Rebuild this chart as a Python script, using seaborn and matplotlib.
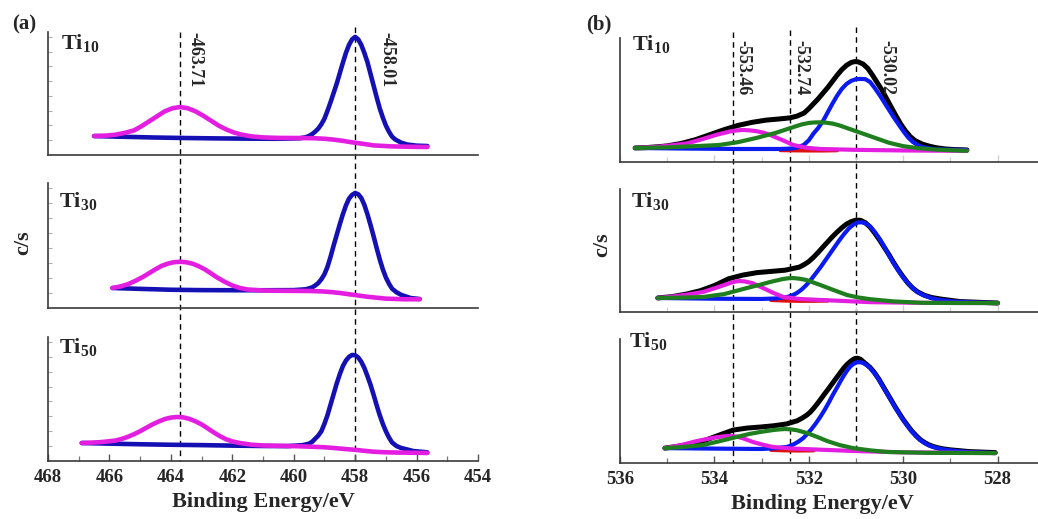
import matplotlib
matplotlib.use("Agg")
import matplotlib.pyplot as plt
import pandas as pd
import seaborn as sns
from matplotlib.ticker import MultipleLocator

# ------------------------------------------------------------------
# Data (binding energy in eV, intensity a.u.)
# ------------------------------------------------------------------
SAMPLES = ["10", "30", "50"]

# ---- panel (a): Ti 2p ----
A10_MAG_X = [466.5, 466.1, 465.8, 465.5, 465.2, 464.95, 464.7, 464.45, 464.2, 463.95, 463.7, 463.45, 463.2, 462.95, 462.7, 462.45, 462.2, 461.95, 461.7, 461.4, 461.0, 460.5, 459.8, 459.3, 459.0, 458.7, 458.4, 458.1, 457.8, 457.4, 456.8, 456.2, 455.65]
A10_MAG_Y = [15.4, 15.8, 16.5, 18.0, 20.0, 23.5, 27.5, 31.5, 35.5, 38.0, 39.0, 38.0, 35.5, 32.0, 28.0, 24.0, 20.8, 18.3, 16.6, 15.2, 14.3, 13.9, 13.8, 13.6, 13.2, 12.5, 11.5, 10.3, 9.3, 7.8, 7.0, 6.7, 6.5]
A10_BLU_X = [466.5, 465.5, 464.5, 463.5, 462.5, 461.5, 460.5, 459.8, 459.6, 459.5, 459.4, 459.3, 459.2, 459.1, 459.0, 458.9, 458.8, 458.7, 458.6, 458.5, 458.4, 458.3, 458.2, 458.1, 458.0, 457.9, 457.8, 457.7, 457.6, 457.5, 457.4, 457.3, 457.2, 457.1, 457.0, 456.9, 456.8, 456.7, 456.5, 456.3, 456.0, 455.65]
A10_BLU_Y = [15.4, 14.8, 14.2, 13.8, 13.5, 13.3, 13.2, 13.6, 14.5, 15.5, 17.0, 19.0, 21.5, 25.0, 29.5, 36.0, 43.0, 50.5, 58.0, 66.5, 75.0, 83.0, 89.5, 94.0, 96.0, 94.0, 89.5, 83.0, 75.5, 66.0, 56.5, 47.0, 38.0, 30.5, 24.0, 19.0, 15.0, 12.7, 10.0, 8.5, 7.6, 7.3]

A30_MAG_X = [465.9, 465.65, 465.4, 465.15, 464.9, 464.7, 464.5, 464.3, 464.1, 463.9, 463.7, 463.5, 463.3, 463.1, 462.9, 462.7, 462.5, 462.25, 462.0, 461.75, 461.5, 461.0, 460.5, 459.5, 459.1, 458.8, 458.5, 458.2, 457.9, 457.6, 457.0, 456.4, 455.9]
A30_MAG_Y = [16.0, 17.2, 19.0, 21.8, 25.0, 28.0, 31.0, 33.7, 35.5, 36.6, 37.0, 36.6, 35.5, 33.5, 31.0, 27.8, 24.5, 21.0, 18.0, 16.0, 14.8, 14.0, 13.8, 13.6, 13.3, 12.8, 12.0, 11.0, 10.0, 9.0, 7.5, 7.0, 7.0]
A30_BLU_X = [465.9, 465.0, 464.0, 463.0, 462.0, 461.0, 460.0, 459.6, 459.4, 459.3, 459.2, 459.1, 459.0, 458.9, 458.8, 458.7, 458.6, 458.5, 458.4, 458.3, 458.2, 458.1, 458.0, 457.9, 457.8, 457.7, 457.6, 457.5, 457.4, 457.3, 457.2, 457.1, 457.0, 456.9, 456.8, 456.65, 456.5, 456.2, 455.9]
A30_BLU_Y = [16.0, 15.3, 14.6, 14.3, 14.2, 14.2, 14.3, 15.0, 16.5, 18.0, 20.0, 23.0, 27.0, 33.0, 41.0, 50.0, 58.5, 67.0, 75.0, 82.0, 87.5, 90.5, 92.0, 91.0, 88.0, 82.5, 75.0, 66.5, 57.5, 48.0, 39.0, 31.0, 24.5, 19.5, 15.5, 12.5, 10.5, 8.0, 7.2]

A50_MAG_X = [466.9, 466.6, 466.3, 466.05, 465.8, 465.6, 465.4, 465.2, 465.0, 464.8, 464.6, 464.4, 464.2, 464.0, 463.8, 463.6, 463.4, 463.2, 463.0, 462.8, 462.6, 462.4, 462.2, 462.0, 461.75, 461.4, 461.0, 460.0, 459.4, 459.0, 458.7, 458.35, 458.0, 457.7, 457.4, 457.0, 456.6, 455.65]
A50_MAG_Y = [14.5, 14.8, 15.2, 15.8, 16.5, 17.8, 19.5, 21.6, 24.0, 26.8, 29.5, 31.8, 33.8, 35.0, 35.5, 35.2, 34.0, 32.0, 29.5, 26.3, 23.0, 20.0, 17.5, 15.8, 14.5, 13.2, 12.5, 12.0, 11.5, 11.1, 10.5, 9.7, 9.0, 8.2, 7.5, 7.0, 6.8, 6.5]
A50_BLU_X = [466.9, 466.0, 465.0, 464.0, 463.0, 462.0, 461.0, 460.2, 459.7, 459.5, 459.4, 459.3, 459.2, 459.1, 459.0, 458.9, 458.8, 458.7, 458.6, 458.5, 458.4, 458.3, 458.2, 458.1, 458.0, 457.9, 457.8, 457.7, 457.6, 457.5, 457.4, 457.3, 457.2, 457.1, 457.0, 456.9, 456.8, 456.65, 456.5, 456.1, 455.65]
A50_BLU_Y = [14.5, 14.0, 13.5, 13.1, 12.8, 12.4, 12.1, 12.0, 12.8, 14.0, 15.5, 18.0, 20.5, 24.0, 30.0, 37.0, 45.5, 54.0, 62.5, 70.0, 76.5, 81.0, 84.0, 85.5, 85.3, 83.5, 80.0, 75.0, 68.5, 61.5, 53.5, 45.0, 37.0, 30.0, 24.0, 19.0, 15.0, 12.0, 10.5, 8.0, 7.0]

# ---- panel (b): O 1s ----
B10_BLK_X = [535.68, 535.45, 535.2, 535.0, 534.7, 534.4, 534.1, 533.8, 533.5, 533.2, 532.9, 532.6, 532.4, 532.25, 532.1, 532.0, 531.9, 531.8, 531.7, 531.6, 531.5, 531.4, 531.3, 531.2, 531.1, 531.02, 530.95, 530.85, 530.75, 530.65, 530.55, 530.45, 530.35, 530.25, 530.15, 530.05, 529.95, 529.85, 529.75, 529.6, 529.45, 529.3, 529.1, 528.9, 528.65]
B10_BLK_Y = [11.3, 11.6, 12.3, 13.0, 15.0, 18.0, 22.0, 26.0, 29.5, 32.0, 33.8, 34.8, 35.6, 37.0, 39.5, 43.0, 47.0, 51.0, 55.5, 60.0, 65.0, 70.0, 74.5, 78.0, 80.3, 81.0, 80.7, 79.0, 75.5, 70.0, 64.0, 58.0, 51.0, 44.0, 37.0, 30.5, 25.0, 20.5, 17.3, 14.5, 12.8, 11.5, 10.5, 10.0, 9.7]
B10_BLU_X = [535.68, 534.5, 533.5, 532.6, 532.4, 532.3, 532.2, 532.1, 532.0, 531.9, 531.8, 531.7, 531.6, 531.5, 531.4, 531.3, 531.2, 531.1, 531.0, 530.9, 530.8, 530.7, 530.6, 530.5, 530.4, 530.3, 530.2, 530.1, 530.0, 529.9, 529.8, 529.7, 529.6, 529.45, 529.3, 528.65]
B10_BLU_Y = [11.3, 10.8, 10.5, 10.5, 10.8, 11.2, 12.2, 14.0, 17.5, 23.0, 27.5, 33.0, 40.0, 47.0, 53.5, 59.0, 63.0, 65.5, 66.8, 67.0, 66.8, 64.5, 59.5, 54.0, 48.0, 42.0, 36.0, 30.5, 25.0, 20.0, 16.3, 13.8, 12.2, 11.0, 10.2, 9.7]
B10_GRN_X = [535.68, 535.0, 534.4, 533.9, 533.5, 533.1, 532.7, 532.3, 532.15, 532.0, 531.88, 531.76, 531.63, 531.5, 531.35, 531.2, 530.9, 530.6, 530.3, 530.0, 529.7, 529.3, 528.65]
B10_GRN_Y = [11.3, 11.8, 12.8, 13.7, 16.0, 19.5, 23.5, 28.5, 30.3, 31.5, 31.9, 32.0, 31.7, 31.0, 29.5, 27.5, 23.5, 19.5, 15.5, 12.8, 11.2, 10.0, 9.0]
B10_MAG_X = [535.68, 535.2, 534.9, 534.58, 534.25, 533.95, 533.65, 533.52, 533.39, 533.25, 533.1, 532.95, 532.82, 532.55, 532.33, 532.05, 531.76, 531.0, 530.0, 528.65]
B10_MAG_Y = [11.3, 12.3, 13.5, 15.0, 18.5, 22.0, 24.8, 25.5, 25.8, 25.5, 24.8, 23.5, 21.8, 17.5, 13.7, 11.5, 10.5, 9.8, 9.3, 9.0]
B10_RED_X = [532.6, 532.3, 532.0, 531.7, 531.4]
B10_RED_Y = [9.6, 9.4, 9.3, 9.3, 9.5]

B30_BLK_X = [535.2, 534.9, 534.6, 534.3, 534.0, 533.7, 533.4, 533.1, 532.8, 532.5, 532.2, 532.1, 532.0, 531.9, 531.8, 531.7, 531.6, 531.5, 531.4, 531.3, 531.2, 531.1, 531.0, 530.9, 530.8, 530.7, 530.6, 530.5, 530.4, 530.3, 530.2, 530.1, 530.0, 529.9, 529.8, 529.7, 529.55, 529.4, 529.2, 528.8, 528.0]
B30_BLK_Y = [11.4, 12.5, 14.5, 17.3, 21.5, 27.0, 30.0, 32.0, 33.0, 34.0, 36.5, 38.5, 41.0, 44.5, 48.5, 52.8, 57.0, 61.2, 65.0, 68.5, 71.5, 73.5, 74.7, 74.5, 72.5, 69.0, 64.0, 58.5, 52.5, 46.5, 40.0, 34.0, 28.5, 23.5, 19.5, 16.5, 13.6, 11.8, 10.5, 8.5, 7.3]
B30_BLU_X = [535.2, 534.0, 533.0, 532.7, 532.45, 532.35, 532.25, 532.15, 532.05, 531.95, 531.85, 531.75, 531.65, 531.55, 531.45, 531.35, 531.25, 531.15, 531.05, 530.96, 530.88, 530.8, 530.7, 530.6, 530.5, 530.4, 530.3, 530.2, 530.1, 530.0, 529.9, 529.8, 529.7, 529.58, 529.4, 529.22, 528.9, 528.5, 528.0]
B30_BLU_Y = [11.4, 10.8, 10.6, 11.0, 12.3, 13.5, 15.5, 18.3, 22.0, 26.5, 31.5, 36.5, 42.0, 47.5, 53.0, 58.5, 63.5, 68.0, 71.2, 72.8, 73.0, 72.0, 69.5, 65.0, 59.5, 53.0, 46.0, 39.5, 33.5, 28.0, 23.5, 19.5, 16.3, 13.8, 11.2, 9.8, 8.5, 7.8, 7.3]
B30_GRN_X = [535.2, 534.7, 534.24, 533.8, 533.31, 533.05, 532.82, 532.55, 532.44, 532.33, 532.2, 532.05, 531.76, 531.45, 531.19, 530.95, 530.7, 530.2, 529.6, 528.8, 528.0]
B30_GRN_Y = [11.4, 11.7, 12.2, 14.5, 19.5, 22.0, 24.4, 26.8, 27.4, 27.6, 27.1, 26.0, 22.0, 17.5, 13.8, 11.8, 10.4, 8.6, 7.5, 7.3, 7.3]
B30_MAG_X = [535.2, 534.9, 534.6, 534.24, 533.9, 533.65, 533.55, 533.46, 533.35, 533.2, 532.97, 532.75, 532.54, 532.2, 531.76, 530.7, 529.5, 528.0]
B30_MAG_Y = [11.4, 12.5, 14.0, 16.3, 20.5, 23.8, 24.8, 25.2, 24.8, 23.5, 19.5, 15.5, 12.2, 10.6, 9.8, 8.0, 7.4, 7.3]
B30_RED_X = [532.8, 532.5, 532.2, 531.9, 531.6]
B30_RED_Y = [9.8, 9.3, 9.1, 9.1, 9.3]

B50_BLK_X = [535.05, 534.8, 534.5, 534.24, 533.9, 533.6, 533.3, 533.03, 532.75, 532.47, 532.25, 532.15, 532.04, 531.97, 531.9, 531.83, 531.76, 531.67, 531.58, 531.49, 531.4, 531.32, 531.25, 531.19, 531.13, 531.07, 531.02, 530.96, 530.9, 530.84, 530.77, 530.7, 530.61, 530.52, 530.44, 530.35, 530.26, 530.18, 530.09, 530.0, 529.91, 529.82, 529.73, 529.64, 529.55, 529.46, 529.37, 529.28, 529.15, 529.0, 528.6, 528.05]
B50_BLK_Y = [12.0, 13.3, 15.2, 17.7, 22.5, 26.6, 28.2, 29.0, 30.0, 31.5, 34.0, 36.0, 38.7, 41.0, 44.0, 47.3, 50.8, 55.5, 60.0, 64.7, 69.4, 73.5, 77.0, 79.5, 81.5, 83.3, 84.3, 84.5, 83.5, 81.5, 79.3, 77.0, 72.9, 67.9, 62.7, 56.9, 51.1, 45.9, 40.4, 35.1, 30.4, 25.9, 22.2, 18.9, 16.6, 14.7, 13.4, 12.4, 11.4, 10.6, 9.2, 8.4]
B50_BLU_X = [535.05, 534.0, 533.0, 532.75, 532.47, 532.38, 532.3, 532.21, 532.12, 532.03, 531.94, 531.85, 531.76, 531.67, 531.58, 531.49, 531.4, 531.32, 531.25, 531.19, 531.13, 531.06, 530.98, 530.91, 530.84, 530.77, 530.7, 530.61, 530.52, 530.44, 530.35, 530.26, 530.18, 530.09, 530.0, 529.91, 529.82, 529.73, 529.64, 529.55, 529.46, 529.37, 529.28, 529.15, 529.0, 528.6, 528.05]
B50_BLU_Y = [12.0, 11.6, 11.3, 11.8, 12.9, 14.0, 15.5, 17.5, 20.0, 23.5, 27.5, 32.0, 37.0, 42.5, 48.5, 55.0, 61.0, 66.5, 71.0, 74.5, 77.4, 79.8, 81.2, 81.3, 80.5, 78.8, 76.6, 72.5, 67.5, 62.3, 56.5, 50.7, 45.5, 40.0, 34.7, 30.0, 25.5, 21.8, 18.5, 16.2, 14.3, 13.0, 12.0, 11.0, 10.2, 8.8, 8.0]
B50_GRN_X = [535.05, 534.7, 534.24, 533.9, 533.53, 533.25, 533.03, 532.75, 532.62, 532.5, 532.37, 532.25, 532.04, 531.82, 531.61, 531.35, 531.06, 530.7, 530.35, 529.5, 528.05]
B50_GRN_Y = [12.0, 12.8, 14.5, 17.5, 21.0, 23.5, 25.0, 26.6, 27.1, 27.4, 27.1, 26.4, 24.2, 21.0, 17.7, 14.5, 12.0, 10.2, 8.9, 8.2, 8.0]
B50_MAG_X = [535.05, 534.7, 534.37, 534.0, 533.8, 533.67, 533.53, 533.4, 533.18, 532.95, 532.76, 532.4, 532.12, 531.6, 531.06, 530.0, 528.05]
B50_MAG_Y = [12.0, 14.5, 17.7, 20.5, 21.5, 21.8, 21.3, 20.0, 16.9, 14.5, 12.9, 11.8, 11.3, 10.5, 9.7, 8.6, 8.0]
B50_RED_X = [532.8, 532.5, 532.2, 531.9]
B50_RED_Y = [10.6, 10.2, 10.1, 10.2]

# peak markers (dashed lines) and their printed labels
A_PEAKS = [463.71, 458.01]
A_PEAK_LABELS = ["-463.71", "-458.01"]
B_PEAKS = [533.6, 532.4, 531.0]
B_PEAK_LABELS = ["-553.46", "-532.74", "-530.02"]

A_TICKS = [468, 466, 464, 462, 460, 458, 456, 454]
B_TICKS = [536, 534, 532, 530, 528]

# ------------------------------------------------------------------
sns.set_style("white")
plt.rcParams["font.family"] = ["Liberation Serif", "DejaVu Serif"]
plt.rcParams["font.weight"] = "bold"
plt.rcParams["mathtext.fontset"] = "custom"
plt.rcParams["mathtext.rm"] = "Liberation Serif:bold"
plt.rcParams["mathtext.bf"] = "Liberation Serif:bold"

W, H = 1038, 519
fig = plt.figure(figsize=(W / 100, H / 100), dpi=100)


def rect(l, t, r, b):
    return [l / W, 1 - b / H, (r - l) / W, (b - t) / H]


C_BLUE_A = "#1410b4"
C_MAG = "#e41ee0"
C_BLUE_B = "#0a1af0"
C_GREEN = "#1f7f1f"
C_RED = "#e01010"
C_BLACK = "#000000"
B_XLIM = (536, 536 - (1038 - 620) / 47.2)

# overlay axes for the dashed peak markers (spanning whole column)
ov_a = fig.add_axes(rect(48, 0, 478, H))
ov_a.set_xlim(468, 454)
ov_a.set_ylim(H, 0)
ov_a.axis("off")
for xp, top in zip(A_PEAKS, [32, 27]):
    ov_a.vlines(xp, top, 461, colors="black", linestyles=(0, (4, 3)), lw=1.0)

ov_b = fig.add_axes(rect(620, 0, 1038, H))
ov_b.set_xlim(*B_XLIM)
ov_b.set_ylim(H, 0)
ov_b.axis("off")
for xp, top, bot in zip(B_PEAKS, [32, 30, 27], [463, 461, 449]):
    ov_b.vlines(xp, top, bot, colors="black", linestyles=(0, (4, 3)), lw=1.0)

A_RECTS = [rect(48, 32, 478, 155), rect(48, 183, 478, 308), rect(48, 337, 478, 461)]
B_RECTS = [rect(620, 38, 1038, 162), rect(620, 189, 1038, 312), rect(620, 339, 1038, 463)]

A_CURVES = [
    [(A10_BLU_X, A10_BLU_Y, C_BLUE_A, 3.3), (A10_MAG_X, A10_MAG_Y, C_MAG, 3.3)],
    [(A30_BLU_X, A30_BLU_Y, C_BLUE_A, 3.3), (A30_MAG_X, A30_MAG_Y, C_MAG, 3.3)],
    [(A50_BLU_X, A50_BLU_Y, C_BLUE_A, 3.3), (A50_MAG_X, A50_MAG_Y, C_MAG, 3.3)],
]
B_CURVES = [
    [(B10_BLK_X, B10_BLK_Y, C_BLACK, 3.6), (B10_RED_X, B10_RED_Y, C_RED, 3.0), (B10_BLU_X, B10_BLU_Y, C_BLUE_B, 3.0),
     (B10_MAG_X, B10_MAG_Y, C_MAG, 3.0), (B10_GRN_X, B10_GRN_Y, C_GREEN, 3.0)],
    [(B30_BLK_X, B30_BLK_Y, C_BLACK, 3.6), (B30_RED_X, B30_RED_Y, C_RED, 3.0), (B30_BLU_X, B30_BLU_Y, C_BLUE_B, 3.0),
     (B30_MAG_X, B30_MAG_Y, C_MAG, 3.0), (B30_GRN_X, B30_GRN_Y, C_GREEN, 3.0)],
    [(B50_BLK_X, B50_BLK_Y, C_BLACK, 3.6), (B50_RED_X, B50_RED_Y, C_RED, 3.0), (B50_BLU_X, B50_BLU_Y, C_BLUE_B, 3.0),
     (B50_MAG_X, B50_MAG_Y, C_MAG, 3.0), (B50_GRN_X, B50_GRN_Y, C_GREEN, 3.0)],
]


def style_axes(ax, xlim, ticks, last, yticks, show_minor):
    ax.set_facecolor("none")
    ax.set_xlim(*xlim)
    ax.set_ylim(0, 100)
    for s in ["top", "right"]:
        ax.spines[s].set_visible(False)
    for s in ["left", "bottom"]:
        ax.spines[s].set_color("#3a3a3a")
        ax.spines[s].set_linewidth(1.2)
    ax.set_xticks(ticks)
    ax.xaxis.set_minor_locator(MultipleLocator(1))
    ax.tick_params(axis="x", which="major", direction="in", length=5, width=1.0,
                   color="#555555", labelsize=13.5, pad=6, bottom=True)
    ax.tick_params(axis="x", which="minor", direction="in", length=3.5, width=0.9,
                   color="#777777", bottom=True)
    if not last:
        ax.tick_params(axis="x", which="both", labelbottom=False, color="#d0d0d0",
                       bottom=show_minor)
    else:
        for lab in ax.get_xticklabels():
            lab.set_fontweight("bold")
            lab.set_family(["Liberation Serif", "DejaVu Serif"])
    if yticks:
        ax.set_yticks([12, 24, 36, 48, 60, 72, 84, 96])
        ax.tick_params(axis="y", direction="in", length=3, width=0.8, color="#b0b0b0",
                       labelleft=False, left=True)
    else:
        ax.set_yticks([])
    ax.set_xlabel("")
    ax.set_ylabel("")


def draw_curves(ax, curves):
    for xs, ys, c, lw in curves:
        df = pd.DataFrame({"E": xs, "I": ys})
        sns.lineplot(data=df, x="E", y="I", ax=ax, color=c, lw=lw, sort=False,
                     estimator=None, solid_capstyle="round", solid_joinstyle="round")


# Panel (a)
for i, (r, curves) in enumerate(zip(A_RECTS, A_CURVES)):
    ax = fig.add_axes(r)
    draw_curves(ax, curves)
    style_axes(ax, (468, 454), A_TICKS, i == 2, True, False)
    if i == 0:
        for xp, lab, dx in zip(A_PEAKS, A_PEAK_LABELS, [0.5, 1.05]):
            ax.text(xp - dx, 1.0, lab, transform=ax.get_xaxis_transform(), rotation=-90,
                    ha="center", va="top", fontsize=13, fontweight="bold")

# Panel (b)
for i, (r, curves) in enumerate(zip(B_RECTS, B_CURVES)):
    ax = fig.add_axes(r)
    draw_curves(ax, curves)
    style_axes(ax, B_XLIM, B_TICKS, i == 2, False, True)
    if i == 0:
        for xp, lab, dx in zip(B_PEAKS, B_PEAK_LABELS, [-0.21, -0.23, -0.66]):
            ax.text(xp + dx, 0.985, lab, transform=ax.get_xaxis_transform(), rotation=-90,
                    ha="center", va="top", fontsize=13, fontweight="bold")

# sample labels (Ti_x)
A_TI_POS = [(61, 49), (59, 207), (59, 353)]
B_TI_POS = [(632, 50), (631, 207), (629, 347)]
for (px, py), s in zip(A_TI_POS + B_TI_POS, SAMPLES + SAMPLES):
    fig.text(px / W, 1 - py / H, r"$\mathbf{Ti}_{\mathbf{" + s + "}}$", fontsize=16,
             ha="left", va="baseline")

# axis titles & panel letters
for cx, cy in [(263, 502), (822, 504)]:
    fig.text(cx / W, 1 - cy / H, "Binding Energy/eV", fontsize=16, fontweight="bold",
             ha="center", va="center")
for cx, cy in [(23, 243), (602, 245)]:
    fig.text(cx / W, 1 - cy / H, "c/s", fontsize=16, fontweight="bold", rotation=90,
             ha="center", va="center")
fig.text(24 / W, 1 - 24 / H, "(a)", fontsize=15, fontweight="bold", ha="center", va="center")
fig.text(599 / W, 1 - 24 / H, "(b)", fontsize=15, fontweight="bold", ha="center", va="center")

fig.savefig("out.png", dpi=100, facecolor="white")
